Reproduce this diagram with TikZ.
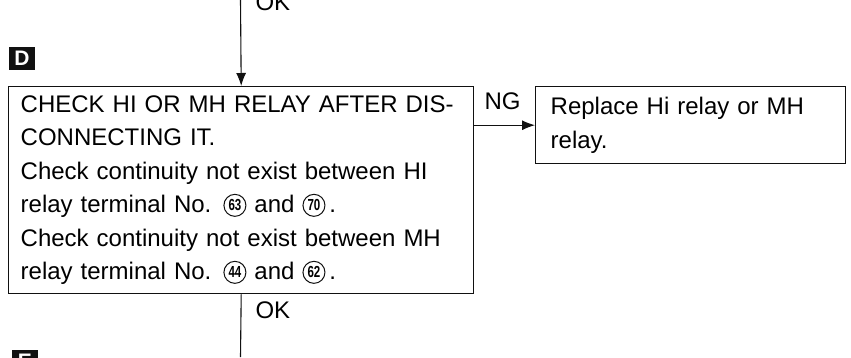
\documentclass[tikz,border=0pt]{standalone}
\usepackage{fontspec}
\setmainfont{Liberation Sans}
\usetikzlibrary{arrows.meta, positioning}
\definecolor{inkBlack}{HTML}{111111}
\definecolor{paperWhite}{HTML}{FFFFFF}
\tikzset{
  arrowK/.style={-{Latex[length=13pt,width=10pt]}, inkBlack, line width=1.1pt},
  lineK/.style={inkBlack, line width=1.1pt},
  boxStep/.style={rectangle, draw=inkBlack, line width=1.4pt, fill=paperWhite,
                  align=left, anchor=north west, inner ysep=0pt},
  boxMark/.style={rectangle, fill=inkBlack, text=paperWhite, font=\bfseries\fontsize{21}{21}\selectfont,
                  minimum width=26pt, minimum height=23pt, inner sep=0pt},
  termNo/.style={circle, draw=inkBlack, line width=1pt, inner sep=0pt, minimum size=22pt,
                 font=\bfseries\fontsize{16}{16}\selectfont},
}
\newcommand{\termno}[1]{\raisebox{-4pt}{\tikz\node[termNo] (tn) {\scalebox{0.72}[1]{#1}};}}
\begin{document}
\begin{tikzpicture}[x=1pt, y=-1pt, font=\fontsize{24}{33.5}\selectfont]
  \useasboundingbox (0,0) rectangle (851,357);
  \coordinate (top) at (240.5,0);
  \coordinate (bottom) at (240.5,357);
  \node[boxStep, text width=441pt, inner xsep=12pt, minimum height=207pt] (mainbox) at (8,86)
    {CHECK HI OR MH RELAY AFTER DIS-\\
     CONNECTING IT.\\
     Check continuity not exist between HI\\
     relay terminal No. \termno{63} and \termno{70}\,.\\
     Check continuity not exist between MH\\
     relay terminal No. \termno{44} and \termno{62}\,.};
  \node[boxStep, text width=280pt, inner xsep=15pt, minimum height=77pt] (ngbox) at (535,86)
    {Replace Hi relay or MH\\relay.};
  \node[boxMark] (markD) at (22,58) {D};
  \node[boxMark, anchor=north] (markE) at (25,350) {E};
  \draw[arrowK] (top) -- (mainbox.north);
  \draw[arrowK] (mainbox.east |- ngbox.west) -- (ngbox.west);
  \draw[lineK] (mainbox.south) -- (bottom);
  \node[anchor=base west] (okTop) at (252,10) {OK};
  \node[anchor=base west] (ngLabel) at (481,109) {NG};
  \node[anchor=base west] (okBottom) at (252,318) {OK};
\end{tikzpicture}
\end{document}
